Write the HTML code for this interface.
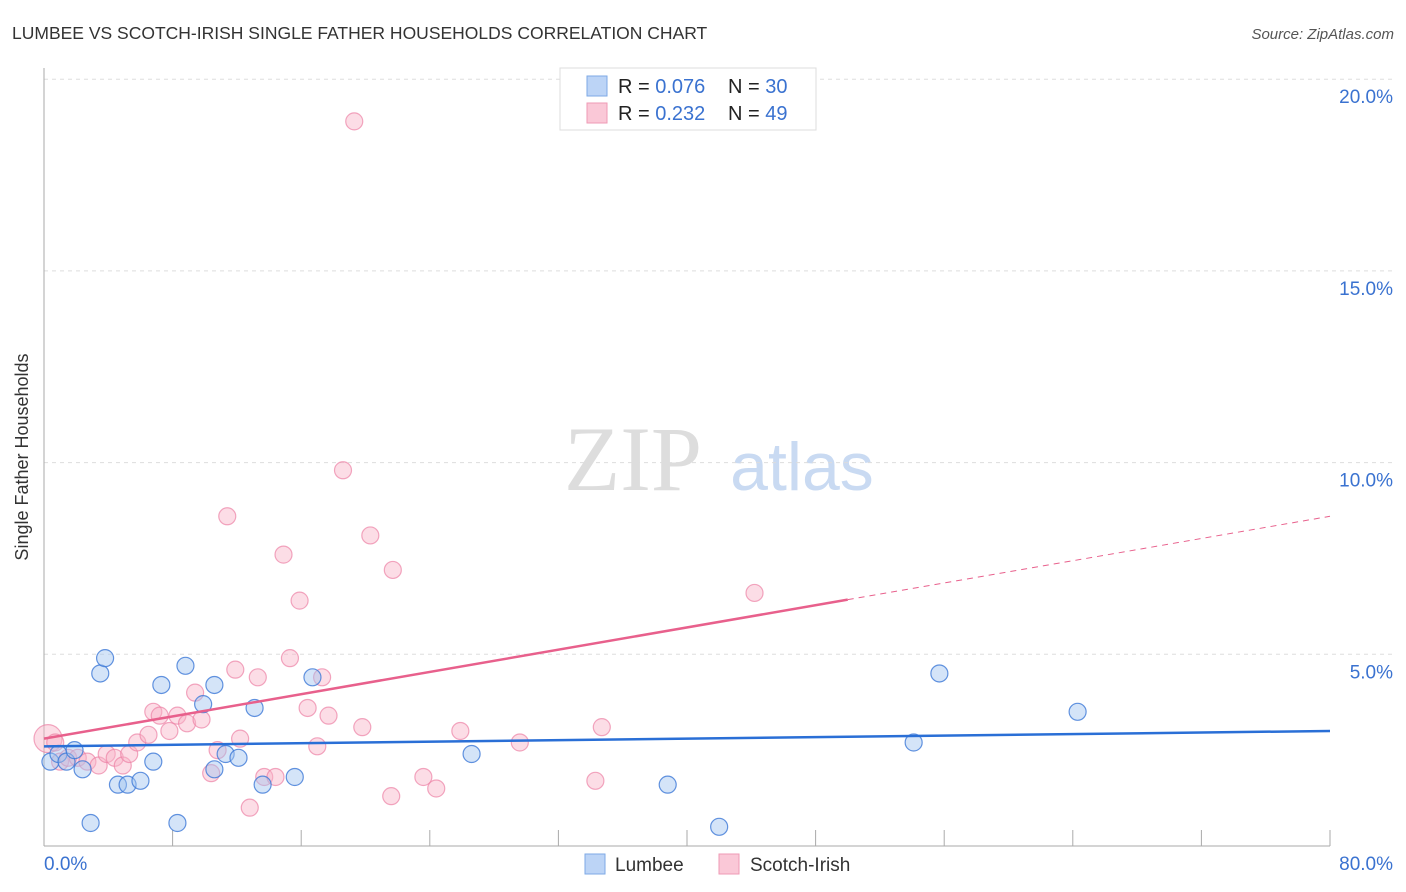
<!DOCTYPE html>
<html><head><meta charset="utf-8"><style>
body{margin:0;background:#fff;font-family:"Liberation Sans",sans-serif;}
#wrap{position:relative;width:1406px;height:892px;overflow:hidden;}
</style></head><body>
<div id="wrap">
<svg id="chart" width="1406" height="892">
<text x="12" y="39" font-size="17.5" fill="#333">LUMBEE VS SCOTCH-IRISH SINGLE FATHER HOUSEHOLDS CORRELATION CHART</text>
<text x="1394" y="39" font-size="15" fill="#555" font-style="italic" text-anchor="end">Source: ZipAtlas.com</text>
<text x="28" y="457" font-size="18" fill="#333" text-anchor="middle" transform="rotate(-90 28 457)">Single Father Households</text>
<text x="633" y="490" font-size="92" fill="#ddd" font-family="Liberation Serif,serif" text-anchor="middle">ZIP</text>
<text x="802" y="490" font-size="68" fill="#c9daf2" text-anchor="middle">atlas</text>
<g id="grid"></g><g id="axes"></g><g id="marks"></g><g id="lines"></g>
<g>
<rect x="560" y="68" width="256" height="62" fill="#fff" stroke="#ddd"/>
<rect x="587" y="76" width="20" height="20" fill="#bcd4f6" stroke="#7ea9e6"/>
<rect x="587" y="103" width="20" height="20" fill="#fac8d7" stroke="#ef9ab4"/>
<text x="618" y="93" font-size="20" fill="#222">R = <tspan fill="#3a72d0">0.076</tspan></text>
<text x="728" y="93" font-size="20" fill="#222">N = <tspan fill="#3a72d0">30</tspan></text>
<text x="618" y="120" font-size="20" fill="#222">R = <tspan fill="#3a72d0">0.232</tspan></text>
<text x="728" y="120" font-size="20" fill="#222">N = <tspan fill="#3a72d0">49</tspan></text>
</g>
<g>
<rect x="585" y="854" width="20" height="20" fill="#bcd4f6" stroke="#7ea9e6"/>
<text x="615" y="871" font-size="19" fill="#333">Lumbee</text>
<rect x="719" y="854" width="20" height="20" fill="#fac8d7" stroke="#ef9ab4"/>
<text x="750" y="871" font-size="19" fill="#333">Scotch-Irish</text>
</g>
</svg>
<script>
const yTicks=[5,10,15,20];
const yTickLabels=["5.0%","10.0%","15.0%","20.0%"];
const xTickLabels=["0.0%","80.0%"];
const lumbeeX=[0.4,0.9,1.4,1.9,2.4,2.9,3.5,3.8,4.6,5.2,6.0,6.8,7.3,8.3,8.8,9.9,10.6,10.6,11.3,12.1,13.1,13.6,15.6,16.7,26.6,38.8,42.0,54.1,55.7,64.3];
const lumbeeY=[2.2,2.4,2.2,2.5,2.0,0.6,4.5,4.9,1.6,1.6,1.7,2.2,4.2,0.6,4.7,3.7,2.0,4.2,2.4,2.3,3.6,1.6,1.8,4.4,2.4,1.6,0.5,2.7,4.5,3.5];
const scotchX=[0.25,0.7,1.0,1.5,2.1,2.7,3.4,3.9,4.4,4.9,5.3,5.8,6.5,6.8,7.2,7.8,8.3,8.9,9.4,9.8,10.4,10.8,11.4,11.9,12.2,12.8,13.3,13.7,14.4,14.9,15.3,15.9,16.4,17.0,17.3,17.7,18.6,19.3,19.8,20.3,21.6,21.7,23.6,24.4,25.9,29.6,34.3,34.7,44.2];
const scotchY=[2.8,2.7,2.2,2.3,2.3,2.2,2.1,2.4,2.3,2.1,2.4,2.7,2.9,3.5,3.4,3.0,3.4,3.2,4.0,3.3,1.9,2.5,8.6,4.6,2.8,1.0,4.4,1.8,1.8,7.6,4.9,6.4,3.6,2.6,4.4,3.4,9.8,18.9,3.1,8.1,1.3,7.2,1.8,1.5,3.0,2.7,1.7,3.1,6.6];
const lumbeeTrend=[2.6,3.0];
const scotchTrend=[2.8,8.6];
const NS="http://www.w3.org/2000/svg";
const X0=44,X1=1330,Y0=846,PXY=38.34;
const xs=v=>X0+(X1-X0)*v/80;
const ys=v=>Y0-v*PXY;
function mk(tag,attrs,parent){const e=document.createElementNS(NS,tag);for(const k in attrs)e.setAttribute(k,attrs[k]);document.getElementById(parent).appendChild(e);return e;}
yTicks.forEach((t,i)=>{
 const g=mk("line",{x1:X0,x2:1394,y1:ys(t),y2:ys(t),stroke:"#ddd","stroke-dasharray":"4,4"},"grid");
 
 
 const l=mk("text",{x:1393,y:ys(t)+24,"font-size":19,fill:"#3a72d0","text-anchor":"end"},"axes");
 l.textContent=yTickLabels[i];
 
 
});
const ya=mk("line",{x1:X0,x2:X0,y1:68,y2:Y0,stroke:"#aaa"},"axes");


const xa=mk("line",{x1:X0,x2:X1,y1:Y0,y2:Y0,stroke:"#aaa"},"axes");


for(let k=1;k<=10;k++){
 const t=mk("line",{x1:xs(k*8),x2:xs(k*8),y1:830,y2:Y0,stroke:"#aaa"},"axes");
 
 
}
[[0,"start",X0],[1,"end",1393]].forEach(([i,a,x])=>{
 const l=mk("text",{x:x,y:870,"font-size":19,fill:"#3a72d0","text-anchor":a},"axes");
 l.textContent=xTickLabels[i];
 
 
});
scotchX.forEach((v,i)=>{
 const c=mk("circle",{cx:xs(v),cy:ys(scotchY[i]),r:i==0?14:8.5,fill:"rgba(248,180,200,0.45)",stroke:"rgba(236,130,165,0.7)","stroke-width":1.2},"marks");
 
 
});
lumbeeX.forEach((v,i)=>{
 const c=mk("circle",{cx:xs(v),cy:ys(lumbeeY[i]),r:8.5,fill:"rgba(160,195,240,0.45)",stroke:"rgba(60,120,215,0.8)","stroke-width":1.2},"marks");
 
 
});
const bl=mk("line",{x1:xs(0),y1:ys(lumbeeTrend[0]),x2:xs(80),y2:ys(lumbeeTrend[1]),stroke:"#2a6fd6","stroke-width":2.5},"lines");


const fx=50,fy=scotchTrend[0]+(scotchTrend[1]-scotchTrend[0])*fx/80;
const pl=mk("line",{x1:xs(0),y1:ys(scotchTrend[0]),x2:xs(fx),y2:ys(fy),stroke:"#e8608c","stroke-width":2.5},"lines");


const pd=mk("line",{x1:xs(fx),y1:ys(fy),x2:xs(80),y2:ys(scotchTrend[1]),stroke:"#e8608c","stroke-width":1,"stroke-dasharray":"6,5"},"lines");


</script>
</div>
</body></html>
